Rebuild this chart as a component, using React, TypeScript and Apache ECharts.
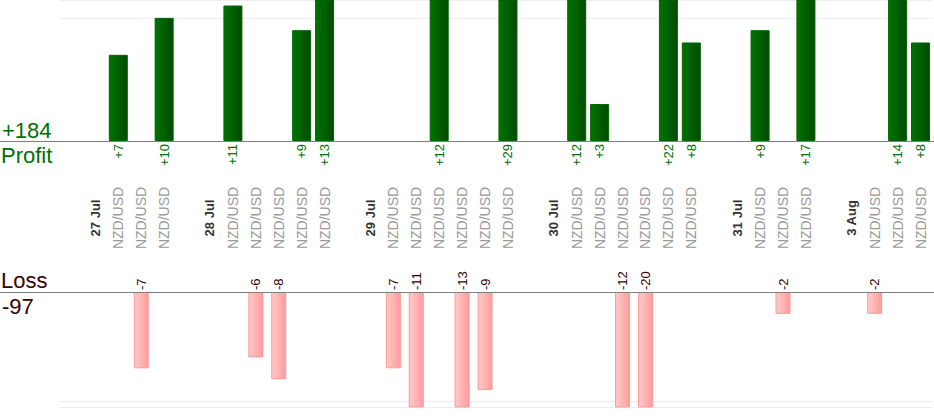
import React, { useEffect, useRef } from 'react';
import * as echarts from 'echarts';

const categories: string[] = [
  '', '27 Jul', 'NZD/USD', 'NZD/USD', 'NZD/USD',
  '', '28 Jul', 'NZD/USD', 'NZD/USD', 'NZD/USD', 'NZD/USD', 'NZD/USD',
  '', '29 Jul', 'NZD/USD', 'NZD/USD', 'NZD/USD', 'NZD/USD', 'NZD/USD', 'NZD/USD',
  '', '30 Jul', 'NZD/USD', 'NZD/USD', 'NZD/USD', 'NZD/USD', 'NZD/USD', 'NZD/USD',
  '', '31 Jul', 'NZD/USD', 'NZD/USD', 'NZD/USD',
  '', '3 Aug', 'NZD/USD', 'NZD/USD', 'NZD/USD',
];

const profit: (number | null)[] = [
  null, null, 7, null, 10,
  null, null, 11, null, null, 9, 13,
  null, null, null, null, 12, null, null, 29,
  null, null, 12, 3, null, null, 22, 8,
  null, null, 9, null, 17,
  null, null, null, 14, 8,
];

const loss: (number | null)[] = [
  null, null, null, -7, null,
  null, null, null, -6, -8, null, null,
  null, null, -7, -11, null, -13, -9, null,
  null, null, null, null, -12, -20, null, null,
  null, null, null, -2, null,
  null, null, -2, null, null,
];

const FONT = 'Arial, "Liberation Sans", sans-serif';

export default function App() {
  const ref = useRef<HTMLDivElement>(null);
  useEffect(() => {
    const chart = echarts.init(ref.current!, null, { renderer: 'svg' });
    const totalProfit = profit.reduce((s: number, v) => s + (v ?? 0), 0);
    const totalLoss = loss.reduce((s: number, v) => s + (v ?? 0), 0);
    const gridLeft = 61;
    const topGrid = { top: 0, height: 141 };
    const botGrid = { top: 292, height: 115 };

    chart.setOption({
      animation: false,
      textStyle: { fontFamily: FONT },
      grid: [
        { left: gridLeft, right: 2, top: topGrid.top, height: topGrid.height },
        { left: gridLeft, right: 2, top: botGrid.top, height: botGrid.height },
      ],
      xAxis: [
        {
          type: 'category',
          gridIndex: 0,
          data: categories,
          axisLine: { show: false },
          axisTick: { show: false },
          axisLabel: {
            interval: 0,
            rotate: 90,
            align: 'center',
            verticalAlign: 'middle',
            margin: 77,
            formatter: (v: string) =>
              v === '' ? '' : v.indexOf('/') >= 0 ? `{p|${v}}` : `{d|${v}}`,
            rich: {
              p: { fontSize: 14, color: '#999999', fontFamily: FONT },
              d: { fontSize: 13, fontWeight: 'bold', color: '#333333', fontFamily: FONT },
            },
          },
        },
        {
          type: 'category',
          gridIndex: 1,
          data: categories,
          position: 'top',
          axisLine: { show: false },
          axisTick: { show: false },
          axisLabel: { show: false },
        },
      ],
      yAxis: [
        {
          type: 'value',
          gridIndex: 0,
          min: 0,
          max: 11.45,
          interval: 10,
          axisLabel: { show: false },
          axisLine: { show: false },
          axisTick: { show: false },
          splitLine: { lineStyle: { color: '#eeeeee' } },
        },
        {
          type: 'value',
          gridIndex: 1,
          inverse: true,
          min: 0,
          max: 10.55,
          interval: 10,
          axisLabel: { show: false },
          axisLine: { show: false },
          axisTick: { show: false },
          splitLine: { lineStyle: { color: '#eeeeee' } },
        },
      ],
      series: [
        {
          type: 'bar',
          xAxisIndex: 0,
          yAxisIndex: 0,
          data: profit,
          barWidth: 19,
          clip: true,
          itemStyle: {
            color: new echarts.graphic.LinearGradient(0, 0, 1, 0, [
              { offset: 0, color: '#007400' },
              { offset: 1, color: '#004a00' },
            ]),
            borderColor: '#006400',
            borderWidth: 1,
          },
          label: {
            show: true,
            position: 'bottom',
            distance: 3,
            rotate: 90,
            align: 'right',
            verticalAlign: 'middle',
            fontSize: 13,
            color: '#007000',
            fontFamily: FONT,
            formatter: (p: any) => '+' + p.value,
          },
        },
        {
          type: 'bar',
          xAxisIndex: 1,
          yAxisIndex: 1,
          data: loss.map((v) => (v == null ? null : Math.abs(v))),
          barWidth: 15,
          clip: true,
          itemStyle: {
            color: new echarts.graphic.LinearGradient(0, 0, 1, 0, [
              { offset: 0, color: '#ffcaca' },
              { offset: 1, color: '#ff9c9c' },
            ]),
            borderColor: '#ff9999',
            borderWidth: 1,
          },
          label: {
            show: true,
            position: 'top',
            distance: 2,
            rotate: 90,
            align: 'left',
            verticalAlign: 'middle',
            fontSize: 13,
            color: '#330000',
            fontFamily: FONT,
            formatter: (p: any) => String(loss[p.dataIndex]),
          },
        },
      ],
      graphic: [
        {
          type: 'line',
          shape: { x1: 0, y1: 141.5, x2: 934, y2: 141.5 },
          style: { stroke: '#808080', lineWidth: 1 },
          z: 10,
        },
        {
          type: 'line',
          shape: { x1: 0, y1: 292.5, x2: 934, y2: 292.5 },
          style: { stroke: '#808080', lineWidth: 1 },
          z: 10,
        },
        {
          type: 'text',
          x: 2,
          y: 130,
          style: {
            text: '+' + totalProfit,
            fontSize: 22,
            fontFamily: FONT,
            fill: '#007000',
            textVerticalAlign: 'middle',
          },
        },
        {
          type: 'text',
          x: 1,
          y: 155,
          style: {
            text: 'Profit',
            fontSize: 22,
            fontFamily: FONT,
            fill: '#007000',
            textVerticalAlign: 'middle',
          },
        },
        {
          type: 'text',
          x: 1,
          y: 280.5,
          style: {
            text: 'Loss',
            fontSize: 22,
            fontFamily: FONT,
            fill: '#330000',
            textVerticalAlign: 'middle',
          },
        },
        {
          type: 'text',
          x: 2,
          y: 306.5,
          style: {
            text: String(totalLoss),
            fontSize: 22,
            fontFamily: FONT,
            fill: '#330000',
            textVerticalAlign: 'middle',
          },
        },
      ],
    });
    return () => chart.dispose();
  }, []);
  return (
    <div
      ref={ref}
      style={{ position: 'absolute', left: 0, top: 0, width: 934, height: 420 }}
    />
  );
}
